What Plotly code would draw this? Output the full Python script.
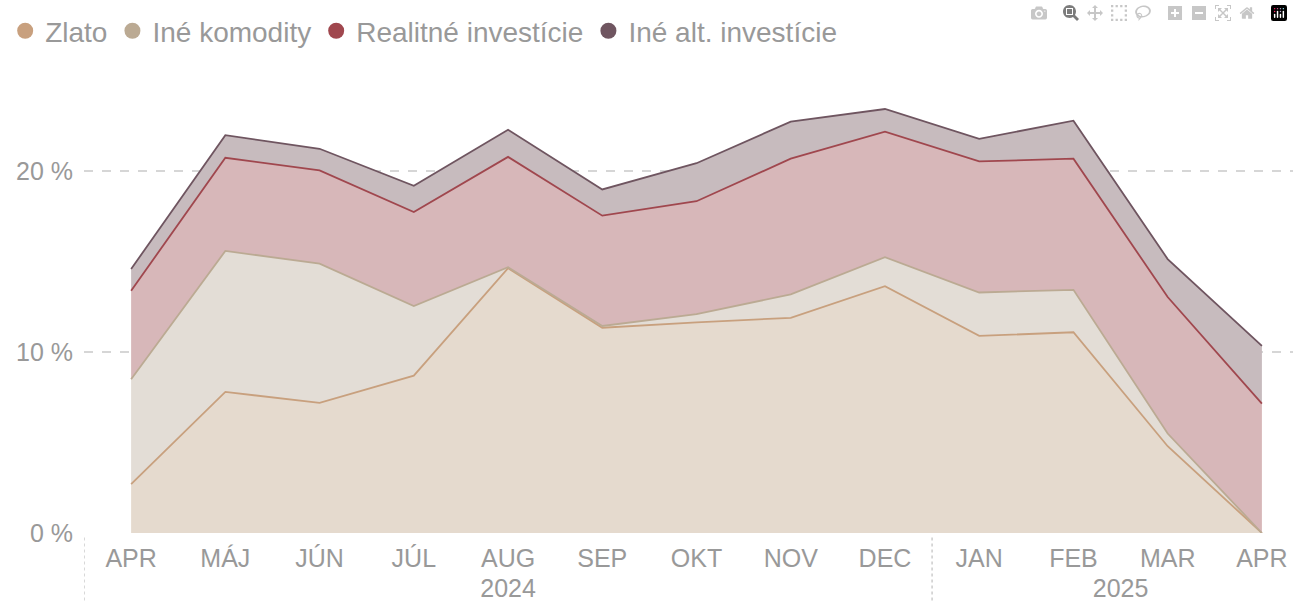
import plotly.graph_objects as go

# Data (percent of portfolio), Apr 2024 - Apr 2025
years  = ["2024"] * 9 + ["2025"] * 4
months = ["APR", "MÁJ", "JÚN", "JÚL", "AUG", "SEP", "OKT", "NOV", "DEC",
          "JAN", "FEB", "MAR", "APR"]

zlato     = [2.7, 7.8, 7.2, 8.7, 14.65, 11.35, 11.65, 11.9, 13.65, 10.9, 11.1, 4.8, 0.0]
komodity  = [5.8, 7.8, 7.7, 3.85, 0.05, 0.1, 0.45, 1.3, 1.6, 2.4, 2.35, 0.7, 0.0]
realitne  = [4.9, 5.15, 5.15, 5.2, 6.1, 6.1, 6.25, 7.5, 6.95, 7.25, 7.25, 7.55, 7.15]
ine_alt   = [1.2, 1.25, 1.2, 1.45, 1.5, 1.45, 2.1, 2.05, 1.25, 1.25, 2.1, 2.1, 3.2]

y_ticks  = [0, 10, 20]
y_labels = ["0 %", "10 %", "20 %"]

series = [
    ("Zlato",               zlato,    "#C8A07E", "#E5DACE"),
    ("Iné komodity",        komodity, "#BBAA93", "#E3DDD6"),
    ("Realitné investície", realitne, "#A0474E", "#D7B7B9"),
    ("Iné alt. investície", ine_alt,  "#6F5560", "#C7BBBE"),
]

FONT = "Liberation Sans, Arial, sans-serif"
GREY = "#999999"
X_RANGE = [-0.5, 12.33]

idx = list(range(len(months)))

# year groups: label at the centre of each group, divider before each group
year_names = list(dict.fromkeys(years))
year_pos = []
year_start = []
for yname in year_names:
    members = [i for i, yv in enumerate(years) if yv == yname]
    year_pos.append(sum(members) / len(members))
    year_start.append(members[0] - 0.5)

fig = go.Figure()

for name, values, line_color, fill_color in series:
    # stacked area, legend handled by the marker-only traces below
    fig.add_trace(go.Scatter(
        x=idx,
        y=values,
        name=name,
        mode="lines",
        stackgroup="one",
        line=dict(color=line_color, width=1.8),
        fillcolor=fill_color,
        showlegend=False,
        customdata=[f"{m} {yv}" for m, yv in zip(months, years)],
        hovertemplate=f"{name}, %{{customdata}}: %{{y:.1f}} %<extra></extra>",
    ))

# legend-only traces (round markers); they sit on the year axis so it gets drawn
for name, values, line_color, fill_color in series:
    fig.add_trace(go.Scatter(
        x=[None],
        y=[None],
        xaxis="x2",
        name=name,
        mode="markers",
        marker=dict(color=line_color, size=18, symbol="circle"),
        showlegend=True,
        hoverinfo="skip",
    ))

for x0 in year_start:
    fig.add_shape(
        type="line", xref="x", yref="paper",
        x0=x0, x1=x0, y0=-0.01, y1=-0.17,
        line=dict(color="#CCCCCC", width=1.5, dash="dot"),
    )

fig.update_layout(
    template="none",
    width=1293,
    height=602,
    paper_bgcolor="white",
    plot_bgcolor="white",
    font=dict(family=FONT, color=GREY, size=22),
    margin=dict(l=84, r=0, t=90, b=69),
    legend=dict(
        orientation="h",
        traceorder="normal",
        x=0.004,
        xref="container",
        y=0.99,
        yref="container",
        yanchor="top",
        font=dict(family=FONT, size=28, color=GREY),
        itemwidth=30,
        tracegroupgap=0,
    ),
    showlegend=True,
    xaxis=dict(
        range=X_RANGE,
        tickvals=idx,
        ticktext=months,
        automargin=False,
        showgrid=False,
        showline=False,
        zeroline=False,
        ticks="",
        ticklabelstandoff=8,
        tickfont=dict(family=FONT, size=25, color=GREY),
    ),
    xaxis2=dict(
        overlaying="x",
        side="bottom",
        anchor="y",
        range=X_RANGE,
        tickvals=year_pos,
        ticktext=year_names,
        automargin=False,
        showgrid=False,
        showline=False,
        zeroline=False,
        ticks="",
        ticklabelstandoff=38,
        tickfont=dict(family=FONT, size=25, color=GREY),
    ),
    yaxis=dict(
        range=[0, 24.5],
        automargin=False,
        tickvals=y_ticks,
        ticktext=y_labels,
        showgrid=True,
        gridcolor="#D6D6D6",
        gridwidth=1.5,
        griddash="dash",
        zeroline=False,
        showline=False,
        ticks="",
        ticklabelstandoff=10,
        tickfont=dict(family=FONT, size=25, color=GREY),
    ),
)

# drop the browser's default body margin so the figure fills the window exactly
fig.write_html("out.html", post_script="document.body.style.margin = '0';")
